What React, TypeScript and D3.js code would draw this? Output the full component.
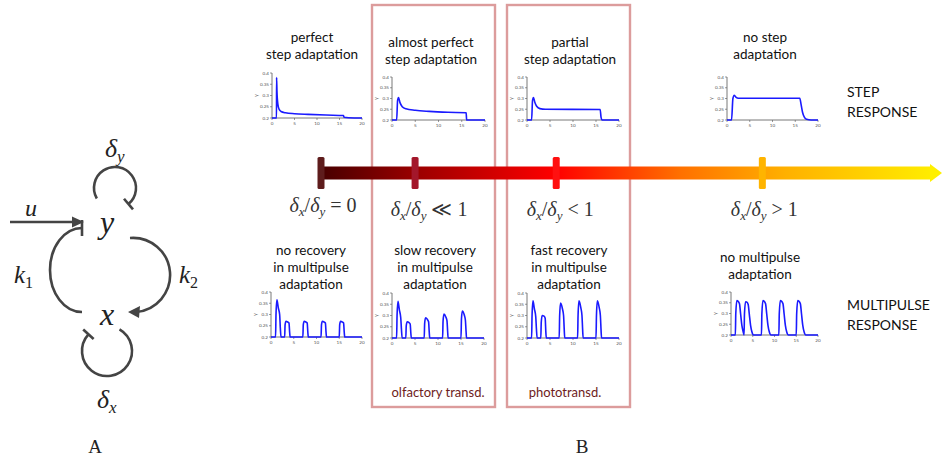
import React from 'react'
import * as d3 from 'd3'

// conceptual axis: ratio delta_x / delta_y, placed on a 0..1 scale
const regimePos = [0, 0.152, 0.38, 0.713]
const regimeOps = ['= 0', '\u226A 1', '< 1', '> 1']
const regimeColors = ['#5e1c1c', '#a3172b', '#ff1010', '#ffb400']

const stepTitles = [['perfect', 'step adaptation'], ['almost perfect', 'step adaptation'], ['partial', 'step adaptation'], ['no step', 'adaptation']]
const pulseTitles = [['no recovery', 'in multipulse', 'adaptation'], ['slow recovery', 'in multipulse', 'adaptation'], ['fast recovery', 'in multipulse', 'adaptation'], ['no multipulse', 'adaptation']]

const yTicks = [0.2, 0.25, 0.3, 0.35, 0.4]
const xTicks = [0, 5, 10, 15, 20]

// step responses [t, y]
const stepPerfect = [[0, 0.2], [1, 0.2], [1.02, 0.38], [1.1, 0.32], [1.3, 0.262], [1.6, 0.238], [2, 0.229], [3, 0.223], [5, 0.219], [8, 0.216], [12, 0.213], [15.9, 0.211], [16, 0.203], [17, 0.201], [20, 0.2]]
const stepAlmost = [[0, 0.2], [1, 0.2], [1.2, 0.29], [1.4, 0.305], [1.7, 0.282], [2.2, 0.262], [3, 0.252], [5, 0.245], [8, 0.24], [12, 0.236], [15.95, 0.234], [16.05, 0.2], [20, 0.2]]
const stepPartial = [[0, 0.2], [1, 0.2], [1.2, 0.29], [1.4, 0.305], [1.7, 0.283], [2.1, 0.264], [2.8, 0.253], [4, 0.25], [15.9, 0.249], [16.1, 0.212], [16.3, 0.2], [20, 0.2]]
const stepNone = [[0, 0.2], [1, 0.2], [1.3, 0.3], [1.6, 0.315], [2, 0.305], [2.5, 0.301], [16, 0.301], [16.3, 0.27], [16.6, 0.236], [17, 0.213], [17.5, 0.203], [18.5, 0.2], [20, 0.2]]

// multipulse responses [t, y]
const pulseNoRecovery = [[0, 0.2], [1, 0.2], [1.1, 0.3], [1.3, 0.365], [1.6, 0.33], [1.9, 0.3], [2.05, 0.24], [2.2, 0.2],
  [3, 0.2], [3.1, 0.255], [3.3, 0.27], [3.7, 0.266], [3.95, 0.262], [4.1, 0.22], [4.2, 0.2],
  [7, 0.2], [7.1, 0.255], [7.3, 0.27], [7.7, 0.266], [7.95, 0.262], [8.1, 0.22], [8.2, 0.2],
  [11, 0.2], [11.1, 0.255], [11.3, 0.27], [11.7, 0.266], [11.95, 0.262], [12.1, 0.22], [12.2, 0.2],
  [15, 0.2], [15.1, 0.255], [15.3, 0.27], [15.7, 0.266], [15.95, 0.262], [16.1, 0.22], [16.2, 0.2], [20, 0.2]]
const pulseSlow = [[0, 0.2], [1, 0.2], [1.1, 0.3], [1.3, 0.363], [1.6, 0.325], [1.9, 0.29], [2.05, 0.24], [2.2, 0.2],
  [3, 0.2], [3.1, 0.255], [3.3, 0.272], [3.7, 0.268], [3.95, 0.262], [4.1, 0.22], [4.2, 0.2],
  [7, 0.2], [7.1, 0.265], [7.3, 0.29], [7.7, 0.282], [7.95, 0.272], [8.1, 0.225], [8.2, 0.2],
  [11, 0.2], [11.1, 0.275], [11.3, 0.306], [11.7, 0.293], [11.95, 0.277], [12.1, 0.228], [12.2, 0.2],
  [15, 0.2], [15.1, 0.285], [15.3, 0.32], [15.7, 0.303], [15.95, 0.28], [16.1, 0.23], [16.2, 0.2], [20, 0.2]]
const pulseFast = [[0, 0.2], [1, 0.2], [1.1, 0.3], [1.3, 0.365], [1.6, 0.33], [1.9, 0.295], [2.05, 0.24], [2.2, 0.2],
  [3, 0.2], [3.1, 0.27], [3.3, 0.3], [3.7, 0.297], [3.95, 0.288], [4.1, 0.225], [4.2, 0.2],
  [7, 0.2], [7.1, 0.3], [7.3, 0.355], [7.7, 0.33], [7.95, 0.3], [8.1, 0.235], [8.2, 0.2],
  [11, 0.2], [11.1, 0.3], [11.3, 0.365], [11.7, 0.335], [11.95, 0.3], [12.1, 0.235], [12.2, 0.2],
  [15, 0.2], [15.1, 0.3], [15.3, 0.365], [15.7, 0.335], [15.95, 0.3], [16.1, 0.235], [16.2, 0.2], [20, 0.2]]
const pulseNone = [[0, 0.2], [1, 0.2], [1.1, 0.3], [1.35, 0.36], [1.6, 0.358], [1.95, 0.345], [2.2, 0.3], [2.5, 0.245], [2.8, 0.215], [3, 0.2],
  [3.1, 0.3], [3.35, 0.355], [3.6, 0.354], [3.95, 0.342], [4.2, 0.298], [4.5, 0.245], [4.8, 0.215], [5.2, 0.2],
  [7, 0.2], [7.1, 0.3], [7.35, 0.36], [7.6, 0.358], [7.95, 0.345], [8.2, 0.3], [8.5, 0.245], [8.8, 0.215], [9.2, 0.2],
  [11, 0.2], [11.1, 0.3], [11.35, 0.36], [11.6, 0.358], [11.95, 0.345], [12.2, 0.3], [12.5, 0.245], [12.8, 0.215], [13.2, 0.2],
  [15, 0.2], [15.1, 0.3], [15.35, 0.36], [15.6, 0.358], [15.95, 0.345], [16.2, 0.3], [16.5, 0.245], [16.8, 0.215], [17.2, 0.2], [20, 0.2]]

const stepSeries = [stepPerfect, stepAlmost, stepPartial, stepNone]
const pulseSeries = [pulseNoRecovery, pulseSlow, pulseFast, pulseNone]

// layout of the little plots
const stepFrames = [
  { x0: 272, x1: 362, top: 73, bot: 118 },
  { x0: 392, x1: 485, top: 77, bot: 120 },
  { x0: 527, x1: 619, top: 77, bot: 120 },
  { x0: 727, x1: 818, top: 77, bot: 120 },
]
const pulseFrames = [
  { x0: 271, x1: 362, top: 292, bot: 337 },
  { x0: 392, x1: 484, top: 293, bot: 338 },
  { x0: 527, x1: 619, top: 293, bot: 338 },
  { x0: 731, x1: 818, top: 292, bot: 335 },
]
const stepTitleX = [312, 431, 570, 765]
const pulseTitleX = [311, 435, 569, 760]

const SANS = 'Lato, "Open Sans", sans-serif'
const SERIF = '"Liberation Serif", "DejaVu Serif", serif'
const INK = '#444'

function MiniPlot ({ f, data }) {
  const x = d3.scaleLinear().domain([0, 20]).range([f.x0, f.x1])
  const y = d3.scaleLinear().domain([0.2, 0.4]).range([f.bot, f.top])
  const line = d3.line().x(d => x(d[0])).y(d => y(d[1])).curve(d3.curveMonotoneX)
  return (
    <g>
      <line x1={f.x0} x2={f.x0} y1={f.top} y2={f.bot} stroke="#555" strokeWidth={0.8} />
      <line x1={f.x0} x2={f.x1} y1={f.bot} y2={f.bot} stroke="#555" strokeWidth={0.8} />
      {yTicks.map(t => (
        <g key={t}>
          <line x1={f.x0 - 2} x2={f.x0} y1={y(t)} y2={y(t)} stroke="#555" strokeWidth={0.6} />
          <text x={f.x0 - 3} y={y(t) + 1.6} fontSize={4.6} fill="#555" textAnchor="end" fontFamily={SANS}>{t}</text>
        </g>
      ))}
      {xTicks.map(t => (
        <g key={t}>
          <line x1={x(t)} x2={x(t)} y1={f.bot} y2={f.bot + 2} stroke="#555" strokeWidth={0.6} />
          <text x={x(t)} y={f.bot + 7} fontSize={4.6} fill="#555" textAnchor="middle" fontFamily={SANS}>{t}</text>
        </g>
      ))}
      <text x={f.x0 - 14} y={y(0.3)} fontSize={5} fill="#555" textAnchor="middle"
        transform={`rotate(-90 ${f.x0 - 14} ${y(0.3)})`} fontFamily={SANS}>y</text>
      <path d={line(data)} fill="none" stroke="#1a1aff" strokeWidth={1.6} />
    </g>
  )
}

function Title ({ x, y0, lines }) {
  return (
    <text textAnchor="middle" fontFamily={SANS} fontSize={13.5} fill="#111">
      {lines.map((l, i) => <tspan key={i} x={x} y={y0 + i * 17}>{l}</tspan>)}
    </text>
  )
}

function Ratio ({ x, y, op }) {
  return (
    <text x={x} y={y} textAnchor="middle" fontFamily={SERIF} fontSize={20} fill="#333">
      <tspan fontStyle="italic">δ</tspan><tspan fontStyle="italic" fontSize={13} dy={4}>x</tspan>
      <tspan dy={-4}>/</tspan><tspan fontStyle="italic">δ</tspan><tspan fontStyle="italic" fontSize={13} dy={4}>y</tspan>
      <tspan dy={-4}>{' ' + op}</tspan>
    </text>
  )
}

function arcPath (cx, cy, r, a0, a1) {
  const rad = a => a * Math.PI / 180
  const p0 = [cx + r * Math.cos(rad(a0)), cy + r * Math.sin(rad(a0))]
  const p1 = [cx + r * Math.cos(rad(a1)), cy + r * Math.sin(rad(a1))]
  const large = (a1 - a0) > 180 ? 1 : 0
  return `M${p0[0]},${p0[1]} A${r},${r} 0 ${large} 1 ${p1[0]},${p1[1]}`
}

function radialBar (cx, cy, r, a, len) {
  const c = Math.cos(a * Math.PI / 180)
  const s = Math.sin(a * Math.PI / 180)
  return `M${cx + (r - len) * c},${cy + (r - len) * s} L${cx + (r + len) * c},${cy + (r + len) * s}`
}

function Network () {
  const yTop = { cx: 115, cy: 188, r: 21 }
  const xBot = { cx: 107, cy: 351, r: 25 }
  return (
    <g stroke={INK} strokeWidth={2.6} fill="none" strokeLinecap="butt">
      {/* self loop on y */}
      <path d={arcPath(yTop.cx, yTop.cy, yTop.r, 150, 410)} />
      <path d={radialBar(yTop.cx, yTop.cy, yTop.r, 50, 7)} />
      {/* self loop on x */}
      <path d={arcPath(xBot.cx, xBot.cy, xBot.r, 300, 582)} />
      <path d={radialBar(xBot.cx, xBot.cy, xBot.r, 222, 7)} />
      {/* input u */}
      <path d="M10,222 L76,222" />
      <path d="M84,222 L72,216.5 L72,227.5 Z" fill={INK} stroke="none" />
      {/* k1: x -| y */}
      <path d="M82,312 A32,42 0 0 1 82,228" />
      <path d="M82,220 L82,236" />
      {/* k2: y -> x */}
      <path d="M130,238 A37,37 0 0 1 136,312" />
      <path d="M128,312 L140,306 L139,318 Z" fill={INK} stroke="none" />
    </g>
  )
}

export default function App () {
  const axisX = d3.scaleLinear().domain([0, 1]).range([321, 940])
  const axisY = 173
  return (
    <svg width={942} height={462} style={{ position: 'absolute', left: 0, top: 0, background: '#fff' }}>
      <defs>
        <linearGradient id="ratioGrad" x1={axisX(0)} x2={axisX(1)} y1={0} y2={0} gradientUnits="userSpaceOnUse">
          <stop offset="0" stopColor="#470000" />
          <stop offset="0.15" stopColor="#990000" />
          <stop offset="0.38" stopColor="#ff0000" />
          <stop offset="0.58" stopColor="#ff7000" />
          <stop offset="0.75" stopColor="#ffb000" />
          <stop offset="1" stopColor="#fff000" />
        </linearGradient>
      </defs>

      <Network />
      <g fontFamily={SERIF} fill="#222" fontStyle="italic">
        <text x={107} y={233} fontSize={32} textAnchor="middle">y</text>
        <text x={107} y={325} fontSize={32} textAnchor="middle">x</text>
        <text x={31} y={216} fontSize={24} textAnchor="middle">u</text>
        <text x={14} y={283} fontSize={25}>k<tspan fontStyle="normal" fontSize={16} dy={5}>1</tspan></text>
        <text x={179} y={283} fontSize={25}>k<tspan fontStyle="normal" fontSize={16} dy={5}>2</tspan></text>
        <text x={105} y={157} fontSize={26}>δ<tspan fontSize={17} dy={5}>y</tspan></text>
        <text x={97} y={408} fontSize={26}>δ<tspan fontSize={17} dy={5}>x</tspan></text>
      </g>
      <text x={95} y={453} fontFamily={SERIF} fontSize={19} textAnchor="middle" fill="#222">A</text>
      <text x={582} y={453} fontFamily={SERIF} fontSize={19} textAnchor="middle" fill="#222">B</text>

      {/* regime boxes */}
      <rect x={372} y={5} width={123} height={402} fill="none" stroke="#dc9c9c" strokeWidth={2.4} />
      <rect x={507} y={5} width={123} height={402} fill="none" stroke="#dc9c9c" strokeWidth={2.4} />

      {/* ratio axis */}
      <rect x={axisX(0)} y={axisY - 6.5} width={axisX(1) - axisX(0) - 8} height={13} fill="url(#ratioGrad)" />
      <path d={`M${axisX(1) - 10},${axisY - 9} L${axisX(1) + 2},${axisY} L${axisX(1) - 10},${axisY + 9} Z`} fill="#fff000" />
      {regimePos.map((p, i) => (
        <rect key={i} x={axisX(p) - 3.5} y={axisY - 16} width={7} height={32} rx={1.5} fill={regimeColors[i]} />
      ))}
      {regimePos.map((p, i) => (
        <Ratio key={i} x={axisX(p) + (i === 1 ? 14 : i === 2 ? 4 : 2)} y={axisY + (i === 0 ? 39 : 43)} op={regimeOps[i]} />
      ))}

      {stepTitles.map((t, i) => <Title key={i} x={stepTitleX[i]} y0={i === 0 || i === 3 ? 42 : 47} lines={t} />)}
      {pulseTitles.map((t, i) => <Title key={i} x={pulseTitleX[i]} y0={i === 3 ? 262 : 255} lines={t} />)}

      {stepSeries.map((s, i) => <MiniPlot key={i} f={stepFrames[i]} data={s} />)}
      {pulseSeries.map((s, i) => <MiniPlot key={i} f={pulseFrames[i]} data={s} />)}

      <text fontFamily={SANS} fontSize={14} fill="#111">
        <tspan x={847} y={97}>STEP</tspan>
        <tspan x={847} y={117}>RESPONSE</tspan>
        <tspan x={847} y={310}>MULTIPULSE</tspan>
        <tspan x={847} y={330}>RESPONSE</tspan>
      </text>
      <text x={438} y={397} textAnchor="middle" fontFamily={SANS} fontSize={13} fill="#6e1c1c">olfactory transd.</text>
      <text x={565} y={397} textAnchor="middle" fontFamily={SANS} fontSize={13} fill="#6e1c1c">phototransd.</text>
    </svg>
  )
}
